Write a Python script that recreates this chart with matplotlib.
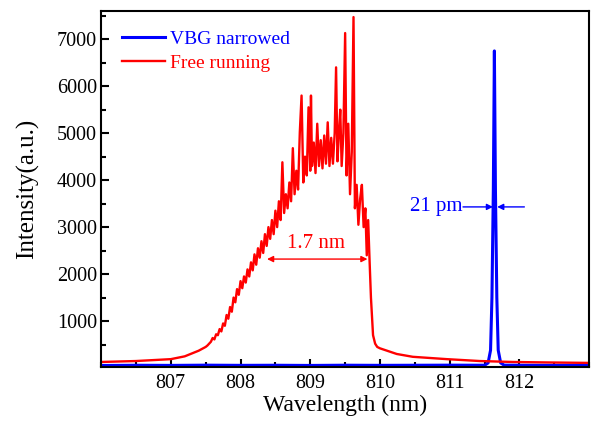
import numpy as np
import matplotlib
matplotlib.use("Agg")
import matplotlib.pyplot as plt
from matplotlib.ticker import MultipleLocator

plt.rcParams['font.family'] = ['Liberation Serif', 'DejaVu Serif']

# Free running spectrum
red_wl = [806.0, 806.5, 807.0, 807.2, 807.3, 807.4,
          807.5, 807.525, 807.55, 807.575, 807.6, 807.625, 807.65, 807.675,
          807.7, 807.725, 807.75, 807.775, 807.8, 807.825, 807.85, 807.875,
          807.9, 807.925, 807.95, 807.975, 808.0, 808.025, 808.05, 808.075,
          808.1, 808.125, 808.15, 808.175, 808.2, 808.225, 808.25, 808.275,
          808.3, 808.325, 808.35, 808.375, 808.4, 808.425, 808.45, 808.475,
          808.5, 808.525, 808.55, 808.575, 808.6, 808.625, 808.65, 808.675,
          808.7, 808.725, 808.75, 808.775, 808.8, 808.825, 808.85, 808.875,
          808.9, 808.925, 808.95, 808.975, 809.0, 809.01, 809.025, 809.05,
          809.075, 809.1, 809.125, 809.15, 809.175, 809.2, 809.225, 809.25,
          809.275, 809.3, 809.325, 809.35, 809.37, 809.39, 809.41, 809.43,
          809.45, 809.475, 809.5, 809.52, 809.545, 809.57, 809.595, 809.62,
          809.64, 809.665, 809.69, 809.715, 809.74, 809.765, 809.79, 809.81,
          809.83, 809.85, 809.87, 809.9, 809.93, 809.96, 810.0, 810.24,
          810.47, 810.96, 811.43, 811.9, 812.4, 813.0]
red_int = [130, 150, 190, 250, 310, 370,
           450, 480, 520, 560, 640, 610, 720, 700,
           830, 780, 950, 900, 1130, 1050, 1300, 1200,
           1500, 1400, 1680, 1560, 1850, 1700, 1950, 1820,
           2100, 1950, 2250, 2080, 2420, 2200, 2550, 2350,
           2700, 2450, 2850, 2600, 3000, 2750, 3150, 2850,
           3350, 3000, 3550, 3150, 4380, 3300, 3700, 3400,
           3950, 3550, 4680, 3700, 4200, 3800, 5020, 5800,
           3950, 4500, 4100, 5550, 4200, 5800, 4300, 4800,
           4150, 5200, 4300, 4850, 4250, 4950, 4350, 5230,
           4300, 4900, 4350, 5000, 6400, 4400, 5000, 5500,
           4300, 5000, 7130, 4100, 5200, 3700, 4600, 7470,
           3400, 3900, 3050, 3600, 3900, 3000, 3400, 2400,
           3150, 2300, 1500, 700, 520, 450, 420, 300,
           240, 190, 150, 130, 120, 110]

# VBG narrowed spectrum
blue_wl = [806.0, 806.5, 807.0, 807.5, 808.0, 808.5, 809.0, 809.5, 810.0,
           810.5, 811.0, 811.5, 811.55, 811.585, 811.605, 811.625, 811.64,
           811.655, 811.675, 811.695, 811.73, 811.78, 812.0, 812.5, 813.0]
blue_int = [55, 60, 57, 62, 58, 60, 56, 61, 58,
            60, 62, 60, 110, 380, 1500, 3800, 6750,
            3800, 1500, 380, 110, 62, 60, 58, 60]

red_fwhm = (808.38, 809.82, 2320)
blue_fwhm = (811.19, 811.62, 811.68, 812.07, 3430)

RED = '#ff0000'
BLUE = '#0000ff'

fig = plt.figure(figsize=(5.91, 4.22), dpi=100)
ax = fig.add_axes([0.171, 0.130, 0.826, 0.844])

ax.plot(blue_wl, blue_int, color=BLUE, lw=2.2, label='VBG narrowed')
ax.plot(red_wl, red_int, color=RED, lw=1.7, label='Free running')

ax.set_xlim(806, 813)
ax.set_ylim(20, 7600)
ax.xaxis.set_minor_locator(MultipleLocator(0.5))
ax.yaxis.set_minor_locator(MultipleLocator(500))
ax.set_xticks([807, 808, 809, 810, 811, 812])
ax.set_yticks([1000, 2000, 3000, 4000, 5000, 6000, 7000])
ax.tick_params(which='both', direction='in', top=False, right=False,
               width=1.5, labelsize=14.5)
ax.tick_params(which='major', length=6)
ax.tick_params(which='minor', length=3.5)
ax.tick_params(axis='x', pad=5)
ax.tick_params(axis='y', pad=3)
for s in ax.spines.values():
    s.set_linewidth(1.5)

ax.set_xlabel('Wavelength (nm)', fontsize=17, labelpad=1)
ax.set_ylabel('Intensity(a.u.)', fontsize=18, labelpad=13)

# FWHM markers
ax.annotate('', xy=(red_fwhm[0], red_fwhm[2]), xytext=(red_fwhm[1], red_fwhm[2]),
            arrowprops=dict(arrowstyle='<|-|>', color=RED, lw=1.0,
                            mutation_scale=9, shrinkA=0, shrinkB=0))
ax.text((red_fwhm[0] + red_fwhm[1]) / 2 - 0.02, red_fwhm[2] + 120, '1.7 nm',
        color=RED, fontsize=15, ha='center', va='bottom')

ax.annotate('', xy=(blue_fwhm[1], blue_fwhm[4]), xytext=(blue_fwhm[0], blue_fwhm[4]),
            arrowprops=dict(arrowstyle='-|>', color=BLUE, lw=1.0,
                            mutation_scale=9, shrinkA=0, shrinkB=0))
ax.annotate('', xy=(blue_fwhm[2], blue_fwhm[4]), xytext=(blue_fwhm[3], blue_fwhm[4]),
            arrowprops=dict(arrowstyle='-|>', color=BLUE, lw=1.0,
                            mutation_scale=9, shrinkA=0, shrinkB=0))
ax.text(blue_fwhm[0] - 0.01, blue_fwhm[4], '21 pm', color=BLUE, fontsize=15,
        ha='right', va='center')

leg = ax.legend(loc='upper left', bbox_to_anchor=(0.043, 0.945), frameon=False,
                fontsize=14, handlelength=2.2, handletextpad=0.25,
                borderaxespad=0, borderpad=0, labelspacing=0.3)
for txt, line in zip(leg.get_texts(), leg.get_lines()):
    txt.set_color(line.get_color())

fig.savefig('out.png', dpi=100)
